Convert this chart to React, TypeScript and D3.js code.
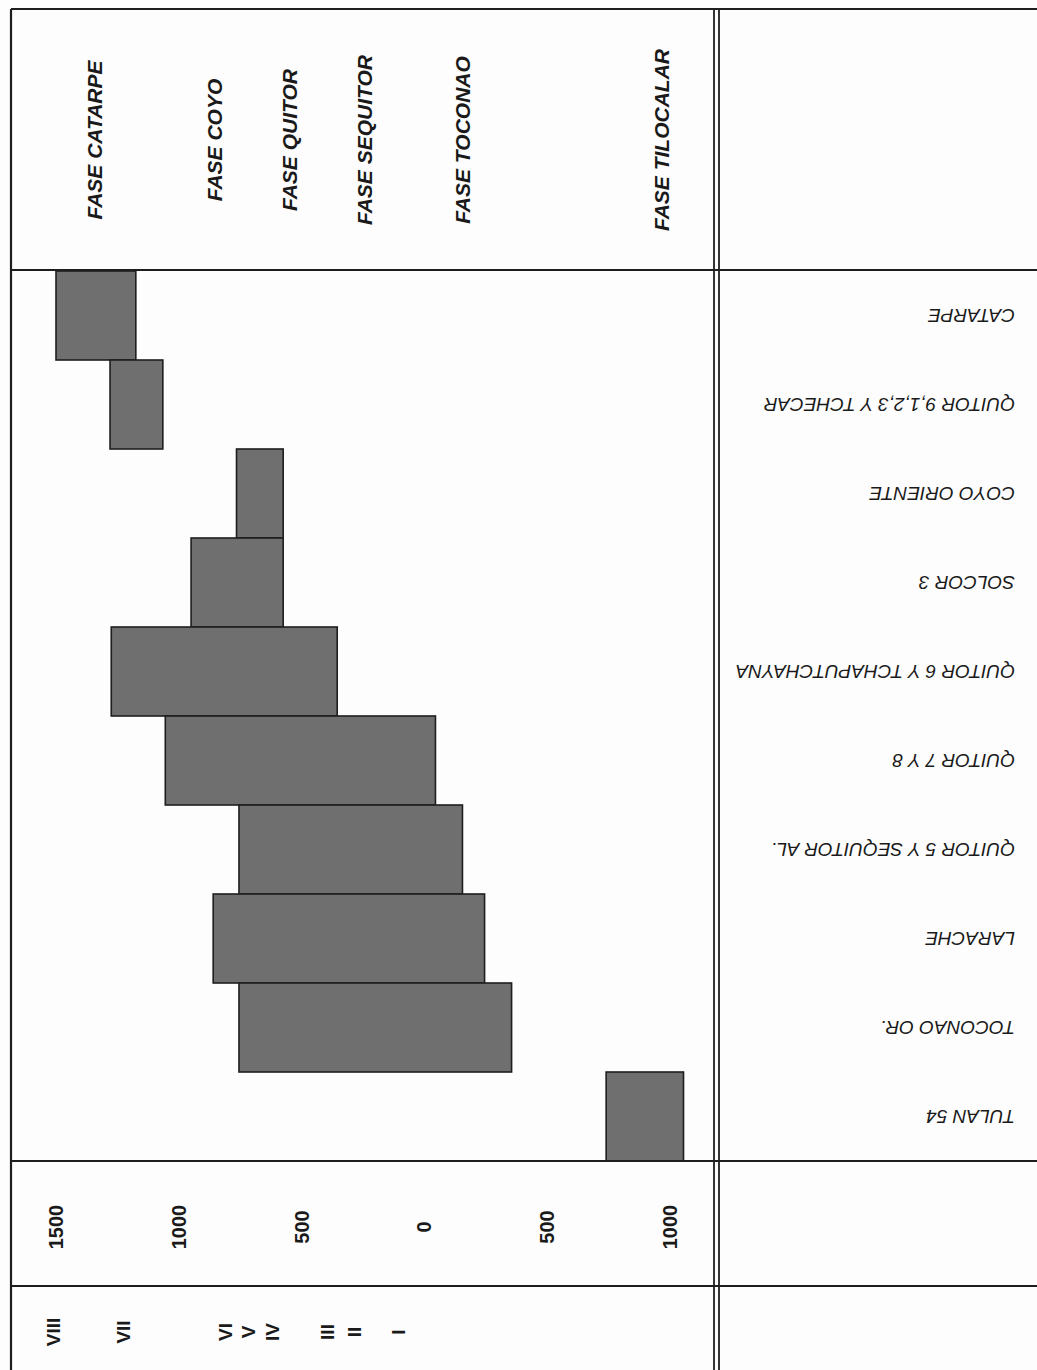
import React from "react";
import * as d3 from "d3";

// ---- data ----
const sites = [
  "CATARPE",
  "QUITOR 9,1,2,3 Y TCHECAR",
  "COYO ORIENTE",
  "SOLCOR 3",
  "QUITOR 6 Y TCHAPUTCHAYNA",
  "QUITOR 7 Y 8",
  "QUITOR 5 Y SEQUITOR AL.",
  "LARACHE",
  "TOCONAO OR.",
  "TULAN 54",
];
// signed years: positive = AD, negative = BC
const startYears = [1500, 1280, 765, 950, 1275, 1055, 755, 860, 755, -740];
const endYears = [1175, 1065, 575, 575, 355, -45, -155, -245, -355, -1055];

const phaseNames = [
  "FASE CATARPE",
  "FASE COYO",
  "FASE QUITOR",
  "FASE SEQUITOR",
  "FASE TOCONAO",
  "FASE TILOCALAR",
];
const phaseYears = [1345, 855, 550, 245, -155, -965];

const tickValues = [1500, 1000, 500, 0, -500, -1000];

const romanLabels = ["VIII", "VII", "VI", "V", "IV", "III", "II", "I"];
const romanYears = [1510, 1225, 810, 715, 620, 395, 285, 105];

// ---- layout ----
const W = 1037;
const H = 1370;
const left = 11;
const top = 9;
const divX1 = 714;
const divX2 = 719;
const rowTop = 270;
const rowBottom = 1161;
const axisBottom = 1286;

export default function App() {
  const x = d3.scaleLinear().domain([1500, -1000]).range([56, 670]);
  const y = d3.scaleBand<string>().domain(sites).range([rowTop + 1, rowBottom]).paddingInner(0);
  const font = "'Liberation Sans', Arial, Helvetica, sans-serif";
  const lineColor = "#1e1e1e";

  return (
    <svg
      width={W}
      height={H}
      viewBox={`0 0 ${W} ${H}`}
      style={{ position: "absolute", left: 0, top: 0, background: "#fdfdfd" }}
      fontFamily={font}
    >
      <rect x={0} y={0} width={W} height={H} fill="#fdfdfd" />

      {/* bars */}
      {sites.map((s, i) => {
        const x0 = x(startYears[i]);
        const x1 = x(endYears[i]);
        return (
          <rect
            key={s}
            x={Math.min(x0, x1)}
            y={y(s)!}
            width={Math.abs(x1 - x0)}
            height={y.bandwidth()}
            fill="#6f6f6f"
            stroke={lineColor}
            strokeWidth={1.6}
          />
        );
      })}

      {/* frame lines */}
      <line x1={left} y1={top} x2={W + 2} y2={top} stroke={lineColor} strokeWidth={2.2} />
      <line x1={left} y1={top} x2={left} y2={H + 2} stroke={lineColor} strokeWidth={2.2} />
      <line x1={divX1} y1={top} x2={divX1} y2={H + 2} stroke={lineColor} strokeWidth={1.8} />
      <line x1={divX2} y1={top} x2={divX2} y2={H + 2} stroke={lineColor} strokeWidth={1.8} />
      <line x1={left} y1={rowTop} x2={W + 2} y2={rowTop} stroke={lineColor} strokeWidth={2.2} />
      <line x1={left} y1={rowBottom} x2={W + 2} y2={rowBottom} stroke={lineColor} strokeWidth={2} />
      <line x1={left} y1={axisBottom} x2={W + 2} y2={axisBottom} stroke={lineColor} strokeWidth={2} />

      {/* phase labels */}
      {phaseNames.map((p, i) => {
        const px = x(phaseYears[i]);
        return (
          <text
            key={p}
            transform={`translate(${px},140) rotate(-90)`}
            textAnchor="middle"
            dominantBaseline="central"
            fontSize={21}
            fontWeight="bold"
            fontStyle="italic"
            fill="#1a1a1a"
          >
            {p}
          </text>
        );
      })}

      {/* site labels (upside down) */}
      {sites.map((s) => {
        const cy = y(s)! + y.bandwidth() / 2;
        return (
          <text
            key={s}
            transform={`translate(1015,${cy}) rotate(180)`}
            textAnchor="start"
            dominantBaseline="central"
            fontSize={19}
            fontStyle="italic"
            fill="#1a1a1a"
          >
            {s}
          </text>
        );
      })}

      {/* axis tick labels */}
      {tickValues.map((t) => (
        <text
          key={t}
          transform={`translate(${x(t)},1227) rotate(-90)`}
          textAnchor="middle"
          dominantBaseline="central"
          fontSize={20}
          fontWeight="bold"
          fill="#1a1a1a"
        >
          {String(Math.abs(t))}
        </text>
      ))}

      {/* roman numerals */}
      {romanLabels.map((r, i) => (
        <text
          key={r + i}
          transform={`translate(${x(romanYears[i])},1332) rotate(-90)`}
          textAnchor="middle"
          dominantBaseline="central"
          fontSize={19}
          fontWeight="bold"
          fill="#1a1a1a"
        >
          {r}
        </text>
      ))}
    </svg>
  );
}
